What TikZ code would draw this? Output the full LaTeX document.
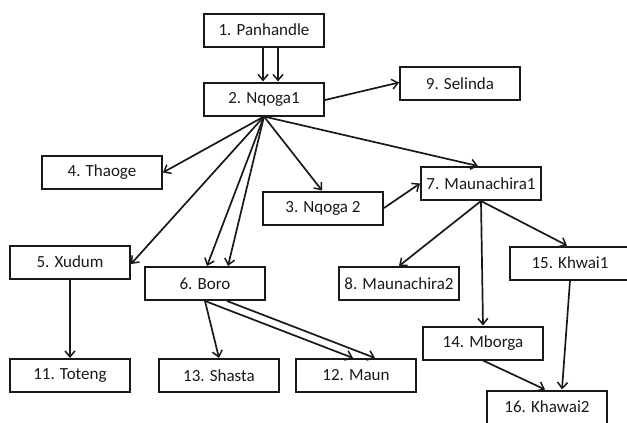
\documentclass[tikz,border=0pt]{standalone}
\usepackage{fontspec}
\setmainfont{Carlito}
\usetikzlibrary{arrows.meta}
\begin{document}
\begin{tikzpicture}[x=1pt,y=-1pt,
  box/.style={draw=black!90,line width=2pt,minimum width=120pt,minimum height=33pt,inner sep=0pt,font=\fontsize{17}{19}\selectfont,text=black!90},
  arr/.style={line width=1.7pt,draw=black!90,-{Straight Barb[length=6pt,width=10pt,line width=1.5pt]}}]
\useasboundingbox (0,0) rectangle (627,423);
\node[box] (n1) at (264,30) {1. Panhandle};
\node[box] (n2) at (264,99) {2. Nqoga1};
\node[box] (n9) at (460,83.5) {9. Selinda};
\node[box] (n4) at (102,172.5) {4. Thaoge};
\node[box] (n3) at (323,208) {3. Nqoga 2};
\node[box] (n7) at (481,183.5) {7. Maunachira1};
\node[box] (n5) at (70,262) {5. Xudum};
\node[box] (n6) at (205,283.5) {6. Boro};
\node[box] (n8) at (399,283.5) {8. Maunachira2};
\node[box] (n15) at (570,263) {15. Khwai1};
\node[box] (n14) at (483,343) {14. Mborga};
\node[box] (n16) at (547,407) {16. Khawai2};
\node[box] (n11) at (70,375.5) {11. Toteng};
\node[box] (n13) at (219,375.5) {13. Shasta};
\node[box] (n12) at (356,375.5) {12. Maun};
\draw[arr] ([xshift=-1pt]n1.south) -- ([xshift=-1pt]n2.north);
\draw[arr] ([xshift=14pt]n1.south) -- ([xshift=14pt]n2.north);
\draw[arr] ([yshift=-1pt]n2.east) -- ([yshift=1pt]n9.west);
\draw[arr] (n2.south) -- (n4.east);
\draw[arr] (n2.south) -- ([yshift=-2pt]n5.east);
\draw[arr] (n2.south) -- ([xshift=2pt]n6.north);
\draw[arr] (n2.south) -- ([xshift=23pt]n6.north);
\draw[arr] (n2.south) -- ([xshift=-1pt]n3.north);
\draw[arr] (n2.south) -- ([xshift=-3pt]n7.north);
\draw[arr] (n3.east) -- (n7.west);
\draw[arr] (n7.south) -- (n8.north);
\draw[arr] (n7.south) -- (n14.north);
\draw[arr] (n7.south) -- ([xshift=-3pt]n15.north);
\draw[arr] (n15.south) -- ([xshift=15pt]n16.north);
\draw[arr] (n14.south) -- ([xshift=-2pt]n16.north);
\draw[arr] (n5.south) -- (n11.north);
\draw[arr] (n6.south) -- (n13.north);
\draw[arr] (n6.south) -- ([xshift=-3pt]n12.north);
\draw[arr] ([xshift=22pt]n6.south) -- ([xshift=19pt]n12.north);
\end{tikzpicture}
\end{document}
